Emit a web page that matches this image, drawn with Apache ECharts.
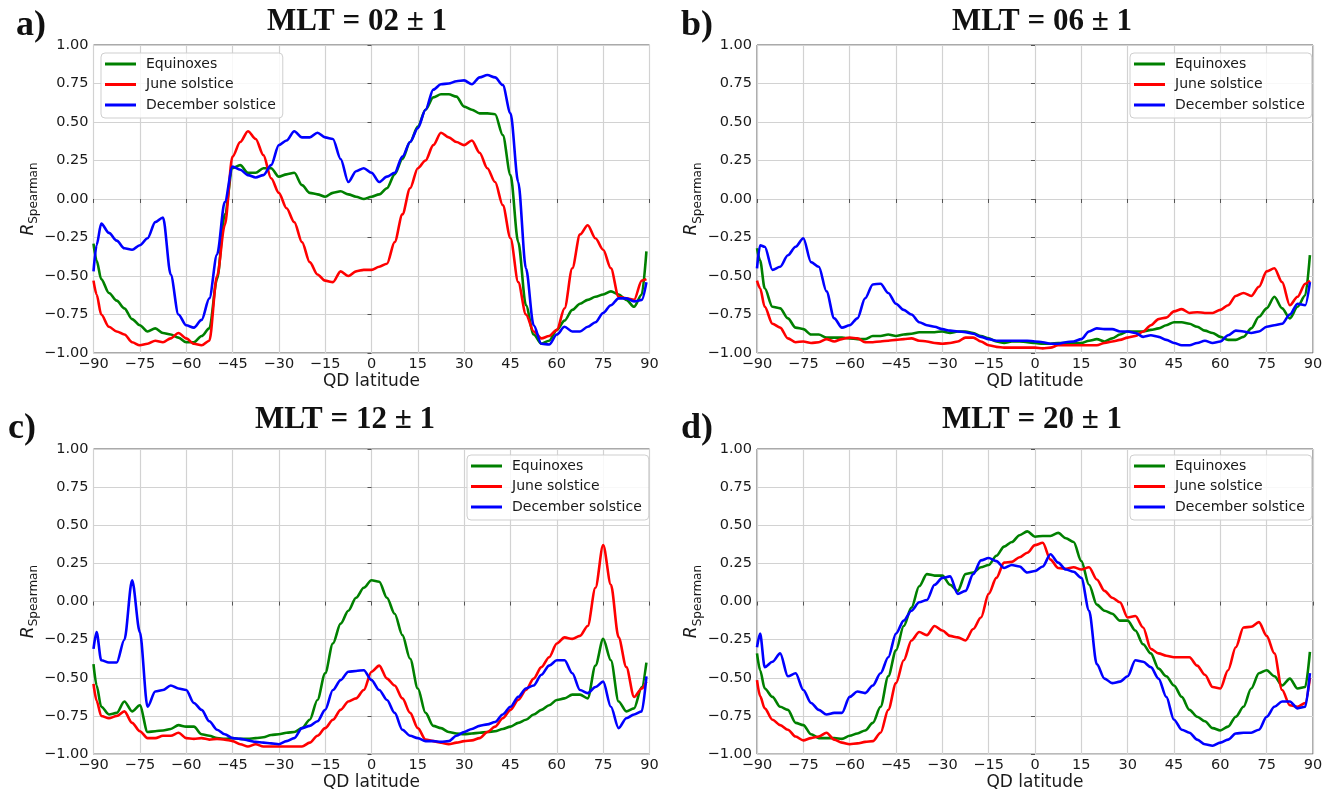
<!DOCTYPE html>
<html lang="en">
<head>
    <meta charset="UTF-8" />
    <title>Spearman correlation vs QD latitude</title>
    <script src="https://cdn.jsdelivr.net/npm/echarts@6/dist/echarts.min.js"></script>
    <style>
        body { margin: 0; background: #fff; }
        #main { width: 1331px; height: 792px; }
    </style>
</head>
<body>
    <div id="main"></div>
    <script>
        // QD latitude grid shared by every curve
        var LAT = [-90, -89, -87.5, -85, -82.5, -80, -77.5, -75, -72.5, -70,
            -67.5, -65, -62.5, -60, -57.5, -55, -52.5, -50, -47.5, -45,
            -42.5, -40, -37.5, -35, -32.5, -30, -27.5, -25, -22.5, -20,
            -17.5, -15, -12.5, -10, -7.5, -5, -2.5, 0, 2.5, 5,
            7.5, 10, 12.5, 15, 17.5, 20, 22.5, 25, 27.5, 30,
            32.5, 35, 37.5, 40, 42.5, 45, 47.5, 50, 52.5, 55,
            57.5, 60, 62.5, 65, 67.5, 70, 72.5, 75, 77.5, 80,
            82.5, 85, 87.5, 89];

        var SEASONS = ["Equinoxes", "June solstice", "December solstice"];
        var PANEL_TITLES = ["MLT = 02 ± 1", "MLT = 06 ± 1", "MLT = 12 ± 1", "MLT = 20 ± 1"];
        var PANEL_LETTERS = ["a)", "b)", "c)", "d)"];

        // a) MLT 02
        var eqA = [-0.29, -0.40, -0.52, -0.61, -0.66, -0.71, -0.78, -0.82, -0.86, -0.84,
            -0.87, -0.88, -0.90, -0.93, -0.93, -0.89, -0.84, -0.52, -0.10, 0.20,
            0.22, 0.17, 0.17, 0.20, 0.20, 0.145, 0.16, 0.17, 0.09, 0.04,
            0.03, 0.015, 0.04, 0.05, 0.03, 0.015, 0.0, 0.015, 0.03, 0.07,
            0.16, 0.26, 0.37, 0.47, 0.58, 0.66, 0.68, 0.68, 0.665, 0.60,
            0.58, 0.556, 0.556, 0.55, 0.415, 0.155, -0.28, -0.69, -0.88, -0.94,
            -0.92, -0.85, -0.79, -0.72, -0.68, -0.655, -0.635, -0.62, -0.60, -0.62,
            -0.655, -0.70, -0.62, -0.34];
        var junA = [-0.53, -0.62, -0.75, -0.83, -0.86, -0.88, -0.93, -0.95, -0.94, -0.92,
            -0.93, -0.905, -0.87, -0.905, -0.94, -0.95, -0.92, -0.50, -0.17, 0.275,
            0.37, 0.44, 0.39, 0.285, 0.135, 0.04, -0.06, -0.15, -0.28, -0.41,
            -0.49, -0.53, -0.54, -0.47, -0.50, -0.47, -0.46, -0.46, -0.44, -0.42,
            -0.28, -0.10, 0.07, 0.20, 0.25, 0.35, 0.43, 0.40, 0.37, 0.35,
            0.38, 0.30, 0.20, 0.11, -0.04, -0.255, -0.54, -0.75, -0.86, -0.905,
            -0.89, -0.85, -0.71, -0.45, -0.23, -0.17, -0.255, -0.33, -0.45, -0.635,
            -0.645, -0.655, -0.53, -0.52];
        var decA = [-0.47, -0.30, -0.16, -0.22, -0.27, -0.32, -0.33, -0.30, -0.255, -0.15,
            -0.12, -0.49, -0.75, -0.82, -0.835, -0.785, -0.645, -0.36, -0.02, 0.21,
            0.19, 0.155, 0.14, 0.155, 0.22, 0.35, 0.38, 0.44, 0.40, 0.40,
            0.43, 0.40, 0.39, 0.26, 0.11, 0.18, 0.20, 0.17, 0.11, 0.145,
            0.17, 0.275, 0.37, 0.46, 0.58, 0.71, 0.745, 0.75, 0.765, 0.77,
            0.745, 0.79, 0.805, 0.79, 0.74, 0.556, 0.11, -0.45, -0.82, -0.94,
            -0.945, -0.88, -0.83, -0.86, -0.86, -0.83, -0.80, -0.74, -0.69, -0.645,
            -0.645, -0.665, -0.655, -0.54];

        // b) MLT 06
        var eqB = [-0.32, -0.40, -0.58, -0.70, -0.71, -0.775, -0.835, -0.845, -0.88, -0.88,
            -0.90, -0.90, -0.90, -0.905, -0.91, -0.91, -0.89, -0.89, -0.88, -0.89,
            -0.88, -0.875, -0.865, -0.865, -0.865, -0.86, -0.87, -0.86, -0.86, -0.87,
            -0.89, -0.905, -0.925, -0.935, -0.925, -0.925, -0.93, -0.935, -0.94, -0.94,
            -0.935, -0.935, -0.935, -0.935, -0.92, -0.91, -0.925, -0.905, -0.88, -0.86,
            -0.86, -0.86, -0.85, -0.84, -0.82, -0.80, -0.80, -0.81, -0.83, -0.855,
            -0.87, -0.895, -0.915, -0.915, -0.895, -0.84, -0.765, -0.71, -0.635, -0.71,
            -0.775, -0.70, -0.625, -0.365];
        var junB = [-0.53, -0.58, -0.70, -0.81, -0.835, -0.905, -0.93, -0.925, -0.935, -0.93,
            -0.91, -0.925, -0.91, -0.90, -0.905, -0.93, -0.93, -0.925, -0.92, -0.915,
            -0.91, -0.905, -0.92, -0.925, -0.935, -0.94, -0.935, -0.925, -0.90, -0.90,
            -0.925, -0.95, -0.96, -0.965, -0.965, -0.965, -0.965, -0.965, -0.97, -0.965,
            -0.95, -0.95, -0.95, -0.95, -0.95, -0.95, -0.935, -0.925, -0.915, -0.90,
            -0.89, -0.86, -0.82, -0.78, -0.77, -0.73, -0.715, -0.74, -0.735, -0.74,
            -0.74, -0.72, -0.69, -0.63, -0.61, -0.63, -0.57, -0.47, -0.45, -0.54,
            -0.69, -0.635, -0.55, -0.53];
        var decB = [-0.45, -0.30, -0.31, -0.46, -0.44, -0.365, -0.31, -0.255, -0.41, -0.44,
            -0.60, -0.775, -0.835, -0.82, -0.775, -0.645, -0.555, -0.55, -0.61, -0.68,
            -0.72, -0.75, -0.80, -0.82, -0.83, -0.845, -0.855, -0.86, -0.865, -0.875,
            -0.895, -0.91, -0.92, -0.92, -0.92, -0.92, -0.92, -0.925, -0.93, -0.94,
            -0.94, -0.93, -0.925, -0.91, -0.86, -0.84, -0.845, -0.845, -0.86, -0.86,
            -0.87, -0.895, -0.885, -0.895, -0.915, -0.935, -0.95, -0.95, -0.935, -0.92,
            -0.935, -0.925, -0.885, -0.855, -0.86, -0.87, -0.86, -0.83, -0.82, -0.81,
            -0.75, -0.68, -0.69, -0.54];

        // c) MLT 12
        var eqC = [-0.41, -0.55, -0.69, -0.74, -0.73, -0.655, -0.72, -0.68, -0.855, -0.85,
            -0.845, -0.835, -0.81, -0.82, -0.82, -0.87, -0.88, -0.895, -0.90, -0.895,
            -0.90, -0.90, -0.895, -0.89, -0.875, -0.87, -0.86, -0.855, -0.83, -0.775,
            -0.645, -0.47, -0.275, -0.145, -0.06, 0.025, 0.09, 0.14, 0.13, 0.025,
            -0.08, -0.22, -0.375, -0.57, -0.73, -0.815, -0.83, -0.855, -0.865, -0.87,
            -0.865, -0.86, -0.855, -0.85, -0.835, -0.82, -0.795, -0.775, -0.74, -0.71,
            -0.68, -0.645, -0.635, -0.61, -0.61, -0.635, -0.42, -0.245, -0.385, -0.655,
            -0.72, -0.70, -0.56, -0.40];
        var junC = [-0.54, -0.65, -0.75, -0.765, -0.75, -0.72, -0.795, -0.85, -0.895, -0.895,
            -0.88, -0.88, -0.86, -0.895, -0.90, -0.895, -0.905, -0.90, -0.905, -0.915,
            -0.935, -0.95, -0.935, -0.95, -0.95, -0.95, -0.95, -0.95, -0.95, -0.925,
            -0.88, -0.83, -0.775, -0.71, -0.655, -0.635, -0.58, -0.46, -0.42, -0.505,
            -0.55, -0.635, -0.73, -0.83, -0.905, -0.915, -0.925, -0.935, -0.925, -0.915,
            -0.91, -0.895, -0.855, -0.82, -0.765, -0.71, -0.645, -0.58, -0.505, -0.43,
            -0.365, -0.275, -0.235, -0.245, -0.225, -0.16, 0.09, 0.37, 0.11, -0.235,
            -0.43, -0.625, -0.57, -0.525];
        var decC = [-0.31, -0.20, -0.385, -0.40, -0.40, -0.25, 0.14, -0.20, -0.69, -0.59,
            -0.58, -0.55, -0.57, -0.58, -0.665, -0.71, -0.785, -0.84, -0.87, -0.895,
            -0.90, -0.91, -0.92, -0.925, -0.93, -0.935, -0.915, -0.895, -0.83, -0.815,
            -0.785, -0.71, -0.58, -0.515, -0.46, -0.455, -0.45, -0.515, -0.58, -0.645,
            -0.73, -0.84, -0.88, -0.895, -0.915, -0.915, -0.92, -0.915, -0.88, -0.855,
            -0.835, -0.815, -0.805, -0.79, -0.74, -0.69, -0.625, -0.57, -0.55, -0.48,
            -0.42, -0.385, -0.385, -0.47, -0.58, -0.60, -0.56, -0.525, -0.69, -0.83,
            -0.765, -0.74, -0.72, -0.49];

        // d) MLT 20
        var eqD = [-0.34, -0.45, -0.57, -0.625, -0.69, -0.71, -0.795, -0.81, -0.87, -0.895,
            -0.895, -0.895, -0.90, -0.88, -0.865, -0.845, -0.795, -0.69, -0.49, -0.32,
            -0.16, -0.04, 0.10, 0.18, 0.17, 0.17, 0.11, 0.07, 0.18, 0.19,
            0.225, 0.24, 0.30, 0.36, 0.39, 0.435, 0.46, 0.425, 0.43, 0.43,
            0.45, 0.415, 0.39, 0.265, 0.11, -0.02, -0.06, -0.08, -0.125, -0.125,
            -0.19, -0.28, -0.34, -0.44, -0.49, -0.55, -0.625, -0.71, -0.755, -0.785,
            -0.83, -0.845, -0.82, -0.755, -0.69, -0.57, -0.47, -0.45, -0.49, -0.55,
            -0.505, -0.57, -0.56, -0.33];
        var junD = [-0.515, -0.62, -0.70, -0.775, -0.81, -0.84, -0.885, -0.91, -0.895, -0.885,
            -0.86, -0.905, -0.925, -0.935, -0.93, -0.92, -0.915, -0.86, -0.71, -0.535,
            -0.385, -0.255, -0.20, -0.22, -0.16, -0.19, -0.225, -0.235, -0.255, -0.18,
            -0.105, 0.05, 0.155, 0.255, 0.26, 0.29, 0.32, 0.37, 0.385, 0.275,
            0.22, 0.215, 0.225, 0.21, 0.225, 0.145, 0.07, 0.025, -0.005, -0.105,
            -0.095, -0.17, -0.31, -0.34, -0.355, -0.365, -0.365, -0.365, -0.42, -0.48,
            -0.56, -0.57, -0.45, -0.30, -0.17, -0.165, -0.135, -0.225, -0.34, -0.58,
            -0.68, -0.69, -0.665, -0.50];
        var decD = [-0.30, -0.21, -0.43, -0.395, -0.34, -0.49, -0.47, -0.58, -0.665, -0.71,
            -0.74, -0.73, -0.73, -0.625, -0.59, -0.60, -0.55, -0.47, -0.365, -0.21,
            -0.125, -0.06, -0.005, 0.01, 0.11, 0.155, 0.165, 0.05, 0.07, 0.18,
            0.27, 0.285, 0.265, 0.22, 0.24, 0.23, 0.19, 0.20, 0.23, 0.31,
            0.255, 0.21, 0.195, 0.155, -0.06, -0.41, -0.505, -0.535, -0.525, -0.49,
            -0.385, -0.395, -0.43, -0.505, -0.625, -0.775, -0.84, -0.86, -0.905, -0.935,
            -0.945, -0.925, -0.905, -0.865, -0.86, -0.86, -0.84, -0.755, -0.69, -0.655,
            -0.655, -0.70, -0.69, -0.47];

        var PANELS = [[eqA, junA, decA], [eqB, junB, decB], [eqC, junC, decC], [eqD, junD, decD]];
        var COLORS = ["#008000", "#ff0000", "#0000ff"];

        var FONT = "DejaVu Sans";
        var INK = "#1a1a1a";
        var minus = function (s) { return String(s).replace("-", "\u2212"); };

        // plot area of each panel (pixels)
        var boxes = [
            { left: 93.5, top: 45, width: 556, height: 308 },
            { left: 757, top: 45, width: 556, height: 308 },
            { left: 93.5, top: 449, width: 556, height: 308 },
            { left: 757, top: 449, width: 556, height: 308 }
        ];
        var legendPos = [
            { left: 101, top: 53 },
            { left: 1130, top: 53 },
            { left: 467, top: 455 },
            { left: 1130, top: 455 }
        ];
        var titlePos = [[357, 22], [1042, 22], [345, 420], [1032, 420]];
        var letterPos = [[16, 25.5], [681, 25.5], [8, 428.5], [681, 428.5]];

        var grids = [], xAxes = [], yAxes = [], series = [], legends = [], graphics = [];

        boxes.forEach(function (b, p) {
            grids.push({
                left: b.left, top: b.top, width: b.width, height: b.height,
                show: true, borderColor: "#555", borderWidth: 1, backgroundColor: "#fff"
            });
            xAxes.push({
                type: "value", gridIndex: p, min: -90, max: 90, interval: 15,
                name: "QD latitude", nameLocation: "middle", nameGap: 19,
                nameTextStyle: { fontFamily: FONT, fontSize: 17, color: INK },
                axisLine: { show: false },
                axisTick: { show: true, length: 4, lineStyle: { color: "#555" } },
                axisLabel: { fontFamily: FONT, fontSize: 14.5, color: INK, margin: 4, formatter: function (v) { return minus(v); } },
                splitLine: { show: true, lineStyle: { color: "#d2d2d2", width: 1.2 } }
            });
            yAxes.push({
                type: "value", gridIndex: p, min: -1, max: 1, interval: 0.25,
                name: "{r|R}{s|Spearman}", nameLocation: "middle", nameGap: 46, nameRotate: 90,
                nameTextStyle: {
                    color: INK,
                    rich: {
                        r: { fontFamily: FONT, fontStyle: "italic", fontSize: 17, lineHeight: 24, color: INK },
                        s: { fontFamily: FONT, fontSize: 12, lineHeight: 12, verticalAlign: "bottom", color: INK }
                    }
                },
                axisLine: { show: false },
                axisTick: { show: true, length: 4, lineStyle: { color: "#555" } },
                axisLabel: { fontFamily: FONT, fontSize: 14.5, color: INK, margin: 5, formatter: function (v) { return minus(v.toFixed(2)); } },
                splitLine: { show: true, lineStyle: { color: "#d2d2d2", width: 1.2 } }
            });
            PANELS[p].forEach(function (vals, s) {
                series.push({
                    name: SEASONS[s], type: "line", xAxisIndex: p, yAxisIndex: p,
                    data: LAT.map(function (x, i) { return [x, vals[i]]; }),
                    showSymbol: false, smooth: 0.3, smoothMonotone: "x",
                    lineStyle: { color: COLORS[s], width: 2.6 },
                    itemStyle: { color: COLORS[s] },
                    z: 3 + s
                });
            });
            legends.push({
                left: legendPos[p].left, top: legendPos[p].top,
                orient: "vertical", icon: "rect", itemWidth: 31, itemHeight: 3, itemGap: 6.5,
                padding: [4, 7, 6, 4], borderColor: "#cfcfcf", borderWidth: 1, borderRadius: 4,
                backgroundColor: "rgba(255,255,255,0.85)", selectedMode: false,
                textStyle: { fontFamily: FONT, fontSize: 14, color: INK, padding: [0, 0, 0, 5] },
                data: SEASONS
            });
            graphics.push({
                type: "text", x: titlePos[p][0], y: titlePos[p][1], z: 10,
                style: {
                    text: PANEL_TITLES[p], font: 'bold 31px "Liberation Serif"', fill: "#111",
                    align: "center", verticalAlign: "middle", textAlign: "center", textVerticalAlign: "middle"
                }
            });
            graphics.push({
                type: "text", x: letterPos[p][0], y: letterPos[p][1], z: 10,
                style: {
                    text: PANEL_LETTERS[p], font: 'bold 36px "Liberation Serif"', fill: "#111",
                    align: "left", verticalAlign: "middle", textAlign: "left", textVerticalAlign: "middle"
                }
            });
        });

        var chart = echarts.init(document.getElementById("main"));
        chart.setOption({
            backgroundColor: "#fff",
            animation: false,
            grid: grids,
            xAxis: xAxes,
            yAxis: yAxes,
            legend: legends,
            series: series,
            graphic: graphics
        });
    </script>
</body>
</html>
